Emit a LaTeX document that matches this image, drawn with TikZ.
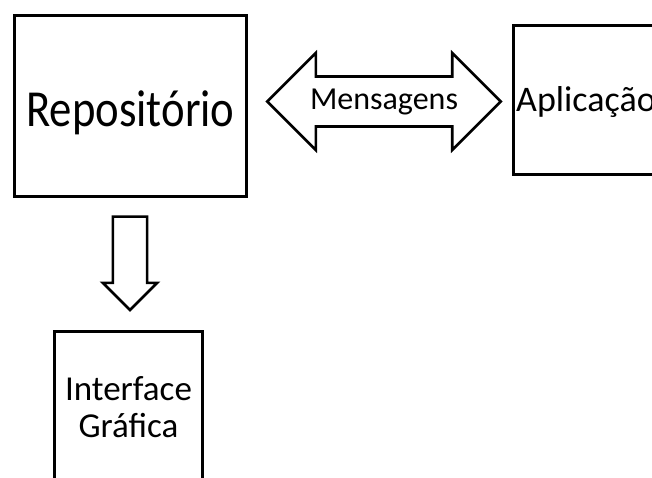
\documentclass[tikz,border=0pt]{standalone}
\usepackage{fontspec}
\setmainfont{Carlito}
\newfontfamily\schmal[FakeStretch=0.86]{Carlito}
\usetikzlibrary{shapes.arrows,positioning}

\tikzset{
  kasten/.style={draw=black,line width=2.6pt,fill=white,inner sep=0pt,align=center},
  blockpfeil/.style={draw=black,line width=2.6pt,fill=white,inner sep=0pt},
}

\begin{document}
\begin{tikzpicture}[x=1pt,y=-1pt]
%Rahmen 652 x 477, rechts und unten wird abgeschnitten
\useasboundingbox (0,0) rectangle (652,477);
\clip (0,0) rectangle (652,477);
\fill[white] (0,0) rectangle (652,477);
%Kaesten (Grundlinie per text height verschoben)
\node[kasten,minimum width=232.4pt,minimum height=181.4pt,text height=40pt,text depth=0pt,font=\schmal\fontsize{52}{60}\selectfont] (repo) at (130.5,106) {Reposit\'orio};
\node[kasten,minimum width=145.4pt,minimum height=149.4pt,text height=22pt,text depth=0pt,font=\fontsize{36}{42}\selectfont] (app) at (586,100) {Aplica\c{c}\~ao};
\node[kasten,minimum width=148.4pt,minimum height=151.4pt,font=\fontsize{35}{37}\selectfont] (gui) at (128.5,407) {Interface\\Gr\'afica};
%Pfeile
\node[blockpfeil,double arrow,minimum height=233.4pt,minimum width=94.4pt,double arrow head extend=23.5pt,text height=32pt,text depth=15.4pt,font=\fontsize{32}{38}\selectfont] (msg) at (384,101.5) {\makebox[136pt][c]{Mensagens}};
\node[blockpfeil,single arrow,rotate=-90,anchor=tail,inner ysep=15.7pt,minimum height=93.4pt,minimum width=54.4pt,single arrow head extend=10pt] (down) at (130,215.3) {};
\end{tikzpicture}
\end{document}
